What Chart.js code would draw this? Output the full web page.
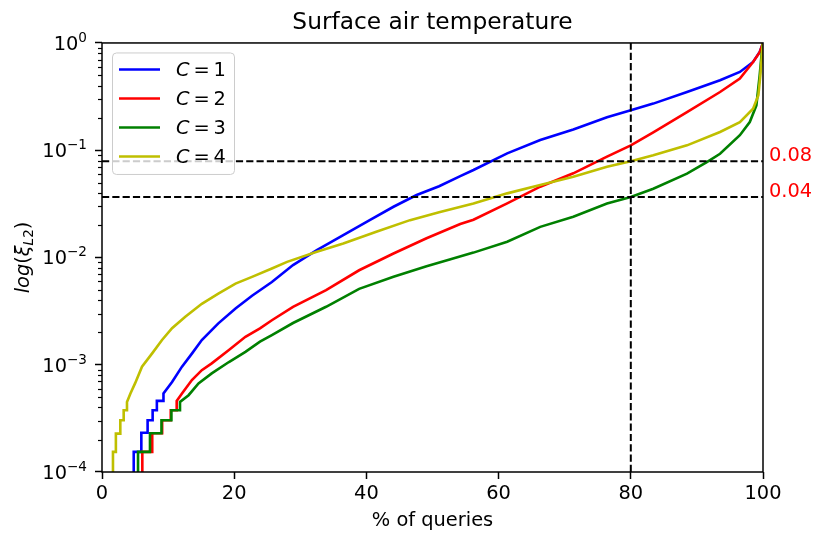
<!DOCTYPE html>
<html>
<head>
<meta charset="utf-8">
<script src="https://cdn.jsdelivr.net/npm/chart.js@4.4.1/dist/chart.umd.min.js"></script>
<style>
  html, body { margin: 0; padding: 0; background: #fff; }
</style>
</head>
<body>
<canvas id="chart" width="817" height="534"></canvas>
<script>
// Teks dan sumbu
const TITLE = 'Surface air temperature';
const X_LABEL = '% of queries';
const X_TICKS = [0, 20, 40, 60, 80, 100];
const Y_DECADES = [1e-4, 1e-3, 1e-2, 1e-1, 1];
const Y_EXPONENTS = ['\u22124', '\u22123', '\u22122', '\u22121', '0'];

const LABELS = ['C = 1', 'C = 2', 'C = 3', 'C = 4'];
const COLORS = ['#0000ff', '#ff0000', '#008000', '#bfbf00'];

// Garis batas (putus-putus)
const X_CUT = 80;
const Y_CUTS = [0.079, 0.0366];
const Y_CUT_TEXT = ['0.08', '0.04'];

// Data kurva: [% of queries, error]
const c1 = [[4.8,1e-4],[4.8,1.54e-4],[5.95,1.54e-4],[5.95,2.32e-4],[6.9,2.32e-4],[6.9,3.04e-4],
  [7.66,3.04e-4],[7.66,3.77e-4],[8.3,3.77e-4],[8.3,4.6e-4],[9.3,4.6e-4],[9.3,5.4e-4],[10.6,6.9e-4],[12.1,9.6e-4],
  [13.6,1.27e-3],[15.1,1.7e-3],[17.6,2.43e-3],[20.2,3.35e-3],[22.7,4.4e-3],[25.7,5.9e-3],[28.9,8.5e-3],
  [32.5,0.0117],[36.5,0.0162],[40.5,0.0223],[44.1,0.0297],[47.6,0.0382],[51,0.0462],[54.2,0.0573],
  [56.2,0.0654],[61.3,0.0935],[66.3,0.1245],[71.3,0.156],[76.4,0.203],[80,0.236],[83.4,0.272],
  [88.5,0.349],[93.5,0.449],[96.5,0.537],[98.5,0.665],[99.5,0.824],[100,1]];

const c2 = [[6.1,1e-4],[6.1,1.54e-4],[7.6,1.54e-4],[7.6,2.3e-4],[9.1,2.3e-4],[9.1,3.04e-4],
  [10.4,3.04e-4],[10.4,3.77e-4],[11.3,3.77e-4],[11.3,4.6e-4],[12.1,5.4e-4],[13.6,7.2e-4],[15.1,8.9e-4],
  [16.6,1.03e-3],[19.2,1.37e-3],[21.7,1.82e-3],[23.9,2.18e-3],[25.7,2.6e-3],[28.9,3.47e-3],[33.9,4.97e-3],
  [38.9,7.6e-3],[44.1,0.0109],[49.1,0.0151],[54.2,0.0205],[56.2,0.0225],[61.3,0.0319],[66.3,0.0457],
  [71.3,0.0609],[76.4,0.087],[80,0.111],[83.4,0.147],[88.5,0.227],[93.5,0.349],[96.5,0.465],
  [98.5,0.665],[99.5,0.82],[100,1]];

const c3 = [[5.45,1e-4],[5.45,1.54e-4],[7.26,1.54e-4],[7.26,2.3e-4],[9.0,2.3e-4],[9.0,3.04e-4],
  [10.5,3.04e-4],[10.5,3.77e-4],[11.8,3.77e-4],[11.8,4.5e-4],[13.1,5.2e-4],[14.6,6.7e-4],[16.6,8.3e-4],
  [19.2,1.06e-3],[21.7,1.32e-3],[23.9,1.64e-3],[25.7,1.89e-3],[28.9,2.45e-3],[33.9,3.47e-3],[38.9,5.1e-3],
  [44.1,6.6e-3],[49.1,8.3e-3],[52.6,9.6e-3],[56.2,0.0111],[61.3,0.014],[66.3,0.0193],[71.3,0.024],
  [76.4,0.0319],[80,0.0366],[83.4,0.0437],[88.5,0.0604],[91.5,0.0776],[93.5,0.0927],[96.5,0.138],
  [98,0.183],[99,0.262],[99.5,0.5],[99.8,0.8],[100,1]];

const c4 = [[1.66,1e-4],[1.66,1.54e-4],[2.1,1.54e-4],[2.1,2.28e-4],[2.77,2.28e-4],[2.77,3.04e-4],
  [3.28,3.04e-4],[3.28,3.77e-4],[3.78,3.77e-4],[3.78,4.5e-4],[4.3,5.4e-4],[5.0,6.7e-4],[6.05,9.6e-4],
  [7.56,1.27e-3],[9.08,1.7e-3],[10.6,2.19e-3],[12.6,2.8e-3],[15.1,3.7e-3],[17.6,4.6e-3],[20.2,5.7e-3],
  [22.7,6.6e-3],[25.7,7.9e-3],[28,9.1e-3],[32.5,0.0113],[36.5,0.0135],[41.5,0.0174],[46.6,0.0223],
  [51,0.0264],[56.2,0.0319],[61.3,0.0396],[66.3,0.0473],[71.3,0.0566],[76.4,0.0702],[80,0.079],
  [83.4,0.0896],[88.5,0.111],[93.5,0.148],[96.5,0.183],[98.5,0.244],[99.3,0.325],[99.6,0.5],
  [99.85,0.8],[100,1]];

const SERIES = [c1, c2, c3, c4];

const FONT = '"DejaVu Sans"';
const FS = 19.4;

function toPoints(arr) {
  return arr.map(p => ({ x: p[0], y: p[1] }));
}

function dashed(points) {
  return {
    data: points, borderColor: '#000', borderWidth: 2, borderDash: [7.2, 3.1],
    pointRadius: 0, fill: false, order: 0, clip: 0
  };
}

const datasets = SERIES.map((s, i) => ({
  label: LABELS[i],
  data: toPoints(s),
  borderColor: COLORS[i],
  borderWidth: 2.6,
  pointRadius: 0,
  tension: 0,
  fill: false,
  order: 4 - i,
  clip: 0
}));
Y_CUTS.forEach(v => datasets.push(dashed([{ x: 0, y: v }, { x: 100, y: v }])));
datasets.push(dashed([{ x: X_CUT, y: 1e-4 }, { x: X_CUT, y: 1 }]));

// Teks matematika sederhana: potongan [teks, font, geser-y, spasi]
function drawParts(ctx, parts, x, y) {
  let cx = x;
  parts.forEach(p => {
    ctx.font = p[1];
    ctx.fillText(p[0], cx, y + (p[2] || 0));
    cx += ctx.measureText(p[0]).width + (p[3] || 0);
  });
}
function partsWidth(ctx, parts) {
  let w = 0;
  parts.forEach(p => { ctx.font = p[1]; w += ctx.measureText(p[0]).width + (p[3] || 0); });
  return w;
}

const decor = {
  id: 'decor',
  afterDraw(chart) {
    const ctx = chart.ctx;
    const a = chart.chartArea;
    const ys = chart.scales.y;
    ctx.save();
    ctx.fillStyle = '#000';
    ctx.strokeStyle = '#000';

    // minor ticks sumbu y
    ctx.lineWidth = 1.2;
    for (let d = 0; d < Y_DECADES.length - 1; d++) {
      for (let m = 2; m <= 9; m++) {
        const py = Math.round(ys.getPixelForValue(Y_DECADES[d] * m)) + 0.5;
        ctx.beginPath();
        ctx.moveTo(a.left - 4, py);
        ctx.lineTo(a.left, py);
        ctx.stroke();
      }
    }

    // label tick sumbu y: 10^n
    ctx.textBaseline = 'alphabetic';
    Y_DECADES.forEach((v, i) => {
      const py = ys.getPixelForValue(v);
      const parts = [['10', FS + 'px ' + FONT, 0], [Y_EXPONENTS[i], (FS * 0.7) + 'px ' + FONT, -8]];
      const w = partsWidth(ctx, parts);
      drawParts(ctx, parts, 87 - w, py + 7);
    });

    // judul sumbu y
    ctx.save();
    ctx.translate(29, (a.top + a.bottom) / 2);
    ctx.rotate(-Math.PI / 2);
    const it = 'italic ' + FS + 'px ' + FONT;
    const up = FS + 'px ' + FONT;
    const sub = 'italic ' + (FS * 0.7) + 'px ' + FONT;
    const subUp = (FS * 0.7) + 'px ' + FONT;
    const yl = [['log', it, 0], ['(', up, 0], ['\u03be', it, 0], ['L', sub, 4], ['2', subUp, 4], [')', up, 0]];
    drawParts(ctx, yl, -partsWidth(ctx, yl) / 2, 0);
    ctx.restore();

    // bingkai
    ctx.lineWidth = 1.5;
    ctx.strokeRect(a.left, a.top, a.right - a.left, a.bottom - a.top);

    // label merah di kanan
    ctx.fillStyle = '#ff0000';
    ctx.font = FS + 'px ' + FONT;
    Y_CUTS.forEach((v, i) => {
      ctx.fillText(Y_CUT_TEXT[i], a.right + 6, ys.getPixelForValue(v));
    });

    // legenda
    const lx = a.left + 10.5, ly = a.top + 10, lw = 122, lh = 121.5;
    ctx.beginPath();
    ctx.roundRect(lx, ly, lw, lh, 4);
    ctx.fillStyle = 'rgba(255,255,255,0.8)';
    ctx.fill();
    ctx.strokeStyle = '#cccccc';
    ctx.lineWidth = 1;
    ctx.stroke();
    chart.data.datasets.slice(0, LABELS.length).forEach((ds, i) => {
      const ry = ly + 16.5 + i * 29;
      ctx.strokeStyle = ds.borderColor;
      ctx.lineWidth = ds.borderWidth;
      ctx.beginPath();
      ctx.moveTo(lx + 6.5, ry);
      ctx.lineTo(lx + 47.5, ry);
      ctx.stroke();
      ctx.fillStyle = '#000';
      const t = ds.label.split(' = ');
      drawParts(ctx, [[t[0], it, 0, FS * 0.2], ['=', up, 0, FS * 0.2], [t[1], up, 0]], lx + 63.5, ry + 7);
    });
    ctx.restore();
  }
};

new Chart(document.getElementById('chart'), {
  type: 'line',
  data: { datasets },
  plugins: [decor],
  options: {
    responsive: false,
    animation: false,
    devicePixelRatio: 1,
    layout: { padding: { left: 0, right: 54, top: 0, bottom: 0 } },
    plugins: {
      legend: { display: false },
      tooltip: { enabled: false },
      title: {
        display: true, text: TITLE, fullSize: false, color: '#000',
        font: { family: FONT, size: 23.3, weight: 'normal' },
        padding: { top: 9, bottom: 6 }
      }
    },
    scales: {
      x: {
        type: 'linear', min: 0, max: 100,
        afterBuildTicks: s => { s.ticks = X_TICKS.map(v => ({ value: v })); },
        afterFit: s => { s.height = 62; },
        ticks: { color: '#000', font: { family: FONT, size: FS }, padding: 3, maxRotation: 0, autoSkip: false },
        grid: { drawOnChartArea: false, drawTicks: true, tickLength: 7, tickColor: '#000', tickWidth: 1.5 },
        border: { display: false },
        title: { display: true, text: X_LABEL, color: '#000', font: { family: FONT, size: FS }, padding: { top: 0, bottom: 1.5 } }
      },
      y: {
        type: 'logarithmic', min: 1e-4, max: 1,
        afterBuildTicks: s => { s.ticks = Y_DECADES.map(v => ({ value: v, major: true })); },
        afterFit: s => { s.width = 102; },
        ticks: { callback: () => '' },
        grid: { drawOnChartArea: false, drawTicks: true, tickLength: 7, tickColor: '#000', tickWidth: 1.5 },
        border: { display: false }
      }
    }
  }
});
</script>
</body>
</html>
